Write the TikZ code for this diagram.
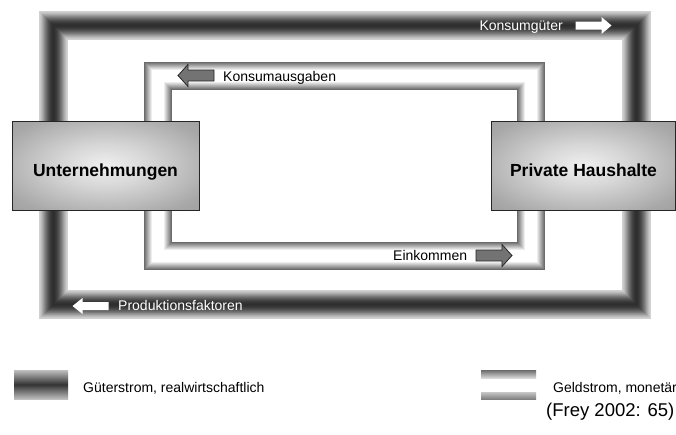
\documentclass[tikz,border=0pt]{standalone}
\usepackage{fontspec}
\setmainfont{Liberation Sans}

% soft glow for the two agent boxes: light centre, grey rim
\pgfdeclareradialshading{boxglow}{\pgfpoint{0bp}{0bp}}{%
  color(0bp)=(black!6); color(12bp)=(black!16); color(30bp)=(black!34);
  color(45bp)=(black!42); color(100bp)=(black!45)}

\begin{document}
\begin{tikzpicture}[x=1pt,y=-1pt,
  flowtext/.style={font=\fontsize{14}{16}\selectfont, inner sep=0pt},
  agentbox/.style={draw=black!85, line width=0.8pt, shading=boxglow, inner sep=0pt},
  agentname/.style={font=\bfseries\fontsize{17.5}{20}\selectfont, inner sep=0pt, anchor=base},
  whitearrow/.style={fill=white, draw=none},
  grayarrow/.style={fill=black!55, draw=black!85, line width=0.8pt, line join=miter},
  % block arrow pointing right, centred on the origin of its scope
  % #1 half shaft width, #2 half head width
  pics/fatarrow/.style 2 args={code={
    \path[pic actions] (-18,-#1) -- (8,-#1) -- (8,-#2) -- (18,0) -- (8,#2) -- (8,#1) -- (-18,#1) -- cycle;
  }}
]
\useasboundingbox (0,0) rectangle (676,434);
\fill[white] (0,0) rectangle (676,434);

% goods stream: closed loop, dark core fading to light edges
\coordinate (g1) at (53,25);
\coordinate (g2) at (636.5,304);
\foreach \i in {0,...,14} {
  \pgfmathsetmacro\w{29-2*\i}
  \pgfmathsetmacro\c{18+64*(1-((14.5-\i)/14.5)^2)^1.5}
  \draw[line width=\w pt, color=black!\c] (g1) rectangle (g2);
}

% money stream: closed loop, dark rims with a white core
\coordinate (m1) at (158,76);
\coordinate (m2) at (530.5,256);
\foreach \i in {0,...,14} {
  \pgfmathsetmacro\w{28-2*\i}
  \pgfmathsetmacro\c{max(0,58*((14-\i)-6)/8)}
  \draw[line width=\w pt, color=black!\c] (m1) rectangle (m2);
}

% flow labels and direction arrows
\coordinate (agoods) at (593.5,25.5);
\pic[whitearrow] at (agoods) {fatarrow={4}{8.5}};
\node[flowtext, text=white, anchor=base east] (tgoods) at (563,30) {Konsumgüter};

\coordinate (aspend) at (196,75.5);
\pic[grayarrow, xscale=-1] at (aspend) {fatarrow={5.5}{11}};
\node[flowtext, anchor=base west] (tspend) at (223,81) {Konsumausgaben};

\coordinate (aincome) at (494,255.5);
\pic[grayarrow] at (aincome) {fatarrow={5.5}{11}};
\node[flowtext, anchor=base west] (tincome) at (393,260) {Einkommen};

\coordinate (afactors) at (90.5,306);
\pic[whitearrow, xscale=-1] at (afactors) {fatarrow={4}{8}};
\node[flowtext, text=white, anchor=base west] (tfactors) at (118,310) {Produktionsfaktoren};

% the two agents, drawn over the loops
\node[agentbox, minimum width=187pt, minimum height=89pt] (firms) at (105.5,165.5) {};
\node[agentname] (firmsname) at (105.5,176) {Unternehmungen};
\node[agentbox, minimum width=184pt, minimum height=89pt] (homes) at (583,165.5) {};
\node[agentname] (homesname) at (583.5,176) {Private Haushalte};

% legend
\shade[top color=black!25, bottom color=black!25, middle color=black!80] (14,370) rectangle (68,399);
\node[flowtext, anchor=base west] (lgoods) at (83,392) {Güterstrom, realwirtschaftlich};
\shade[top color=black!58, bottom color=black!15] (481,370) rectangle (536,378);
\shade[top color=black!22, bottom color=black!50] (481,392) rectangle (536,399);
\node[flowtext, anchor=base west] (lmoney) at (553,392) {Geldstrom, monetär};

\node[anchor=base west, inner sep=0pt, font=\fontsize{18.5}{21}\selectfont] (source) at (546,416) {(Frey 2002: 65)};
\end{tikzpicture}
\end{document}
